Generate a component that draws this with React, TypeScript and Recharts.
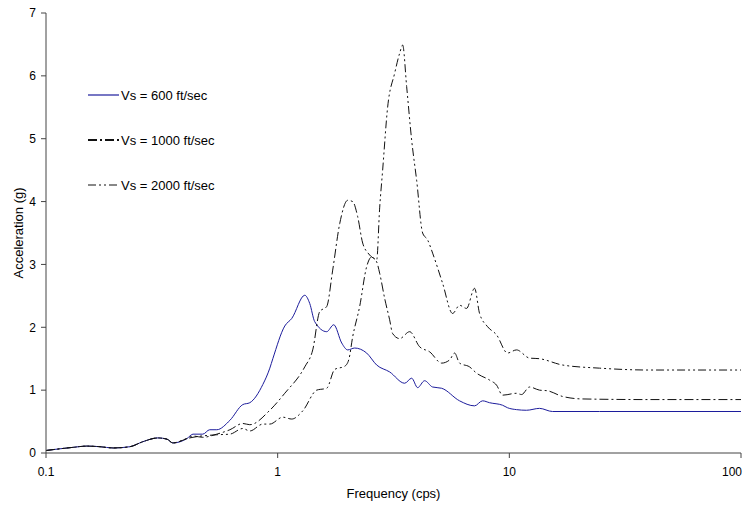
import React from 'react';
import { LineChart, Line, XAxis, YAxis, Legend, Label } from 'recharts';

// frequency (cps) -> spectral acceleration (g)
const lowFreq = [0.1, 0.131, 0.15, 0.171, 0.195, 0.23, 0.262, 0.304, 0.333, 0.353, 0.406];
const lowAcc = [0.04, 0.09, 0.11, 0.1, 0.08, 0.1, 0.18, 0.24, 0.22, 0.16, 0.23];

const vs600Freq = [
  0.431, 0.475, 0.509, 0.546, 0.622, 0.707, 0.758, 0.863, 0.925, 0.953, 1.073, 1.15, 1.309, 1.375,
  1.445, 1.628, 1.746, 1.89, 2.006, 2.15, 2.422, 2.675, 3.043, 3.533, 3.787, 4.02, 4.308, 4.665,
  5.102, 6.098, 7.078, 7.663, 8.215, 9.348, 9.822, 10.74, 11.86, 13.5, 15.36, 24.49, 100,
];
const vs600Acc = [
  0.3, 0.3, 0.37, 0.37, 0.52, 0.77, 0.8, 1.09, 1.35, 1.5, 2.02, 2.14, 2.51, 2.38,
  2.09, 1.93, 2.04, 1.75, 1.64, 1.67, 1.59, 1.4, 1.29, 1.11, 1.19, 1.04, 1.15, 1.05,
  1.03, 0.83, 0.75, 0.83, 0.8, 0.76, 0.72, 0.69, 0.68, 0.71, 0.66, 0.66, 0.66,
];

const vs1000Freq = [
  0.431, 0.475, 0.546, 0.622, 0.707, 0.758, 0.925, 1.073, 1.309, 1.417, 1.519, 1.628, 1.728, 1.853,
  2.006, 2.108, 2.215, 2.328, 2.495, 2.675, 2.756, 2.9, 3.043, 3.135, 3.362, 3.713, 4.1, 4.528,
  5.102, 5.523, 5.804, 6.098, 6.735, 7.221, 8.215, 8.807, 9.348, 10.74, 11.29, 12.22, 13.5, 14.61,
  16.96, 20.69, 40.24, 100,
];
const vs1000Acc = [
  0.27, 0.25, 0.3, 0.37, 0.47, 0.45, 0.68, 0.95, 1.37, 1.64, 2.25, 2.33, 2.91, 3.65,
  4.02, 4.0, 3.76, 3.34, 3.15, 3.04, 2.86, 2.45, 2.12, 1.9, 1.82, 1.93, 1.69, 1.61,
  1.43, 1.48, 1.59, 1.43, 1.37, 1.27, 1.16, 1.08, 0.92, 0.95, 0.93, 1.05, 1.0, 0.99,
  0.9, 0.86, 0.85, 0.85,
];

const vs2000Freq = [
  0.431, 0.546, 0.622, 0.707, 0.758, 0.863, 0.925, 1.052, 1.15, 1.283, 1.474, 1.628, 1.763, 1.947,
  2.026, 2.108, 2.259, 2.42, 2.545, 2.675, 2.756, 2.839, 2.983, 3.198, 3.362, 3.464, 3.604, 3.787,
  3.98, 4.224, 4.439, 4.665, 5.152, 5.689, 6.098, 6.536, 7.078, 7.439, 8.054, 8.807, 9.822, 10.74,
  12.22, 13.5, 16.96, 24.49, 40.24, 100,
];
const vs2000Acc = [
  0.25, 0.29, 0.3, 0.39, 0.35, 0.46, 0.46, 0.57, 0.54, 0.67, 1.0, 1.03, 1.33, 1.38,
  1.48, 1.85, 2.33, 2.96, 3.12, 3.07, 3.9, 4.5, 5.5, 6.04, 6.36, 6.49, 5.83, 4.98,
  4.34, 3.5, 3.39, 3.18, 2.7, 2.22, 2.35, 2.3, 2.62, 2.22, 2.01, 1.88, 1.59, 1.64,
  1.51, 1.5, 1.4, 1.35, 1.32, 1.32,
];

const xTicks = [0.1, 1, 10, 100];
const yTicks = [0, 1, 2, 3, 4, 5, 6, 7];

const toRows = (fs: number[], as: number[]) => fs.map((f, i) => ({ f, a: as[i] }));

const data600 = toRows([...lowFreq, ...vs600Freq], [...lowAcc, ...vs600Acc]);
const data1000 = toRows([...lowFreq, ...vs1000Freq], [...lowAcc, ...vs1000Acc]);
const data2000 = toRows([...lowFreq, ...vs2000Freq], [...lowAcc, ...vs2000Acc]);

const series = [
  { name: 'Vs = 600 ft/sec', data: data600, color: '#1c1c9c', width: 1, legendWidth: 1.2, dash: undefined },
  { name: 'Vs = 1000 ft/sec', data: data1000, color: '#111111', width: 1, legendWidth: 2.2, dash: '9 3 2 3' },
  { name: 'Vs = 2000 ft/sec', data: data2000, color: '#111111', width: 1, legendWidth: 1, dash: '8 3 2 3 2 3' },
];

const FONT = '"Liberation Sans", Arial, sans-serif';

// last label sits inside the plot edge, like the original
const XTick = (props: any) => {
  const { x, y, payload } = props;
  const last = payload.value === 100;
  return (
    <text
      x={last ? x + 1 : x}
      y={y}
      dy="0.71em"
      textAnchor={last ? 'end' : 'middle'}
      fill="#000"
      fontSize={12}
      fontFamily={FONT}
    >
      {payload.value}
    </text>
  );
};

const renderLegend = () => (
  <div style={{ position: 'relative', fontFamily: FONT, fontSize: 13, color: '#000' }}>
    {series.map((s, i) => (
      <div
        key={s.name}
        style={{ position: 'absolute', left: 0, top: i * 45, height: 20, display: 'flex', alignItems: 'center', whiteSpace: 'nowrap' }}
      >
        <svg width={33} height={20} style={{ display: 'block' }}>
          <line x1={0} y1={10} x2={31} y2={10} stroke={s.color} strokeWidth={s.legendWidth} strokeDasharray={s.dash} />
        </svg>
        <span>{s.name}</span>
      </div>
    ))}
  </div>
);

const App: React.FC = () => {
  return (
    <div style={{ position: 'absolute', left: 0, top: 0, background: '#fff' }}>
      <LineChart width={754} height={506} margin={{ top: 13, right: 13, bottom: 0, left: 0 }}>
        <XAxis
          type="number"
          dataKey="f"
          scale="log"
          domain={[0.1, 100]}
          ticks={xTicks}
          allowDataOverflow
          height={53}
          stroke="#444"
          tickSize={5}
          tickMargin={9}
          tick={<XTick />}
        >
          <Label value="Frequency (cps)" position="insideBottom" offset={8} style={{ fill: '#000', fontSize: 13, fontFamily: FONT }} />
        </XAxis>
        <YAxis
          type="number"
          domain={[0, 7]}
          ticks={yTicks}
          width={46}
          stroke="#444"
          tickSize={5}
          tickMargin={5}
          tick={{ fill: '#000', fontSize: 12, fontFamily: FONT }}
        >
          <Label
            value="Acceleration (g)"
            angle={-90}
            position="insideLeft"
            offset={18}
            style={{ fill: '#000', fontSize: 13, fontFamily: FONT, textAnchor: 'middle' }}
          />
        </YAxis>
        <Legend
          layout="horizontal"
          verticalAlign="middle"
          align="center"
          content={renderLegend}
          wrapperStyle={{ left: 88, top: 85, width: 200, height: 120 }}
        />
        {series.map((s) => (
          <Line
            key={s.name}
            data={s.data}
            dataKey="a"
            name={s.name}
            type="monotone"
            stroke={s.color}
            strokeWidth={s.width}
            strokeDasharray={s.dash}
            dot={false}
            activeDot={false}
            isAnimationActive={false}
          />
        ))}
      </LineChart>
    </div>
  );
};

export default App;
